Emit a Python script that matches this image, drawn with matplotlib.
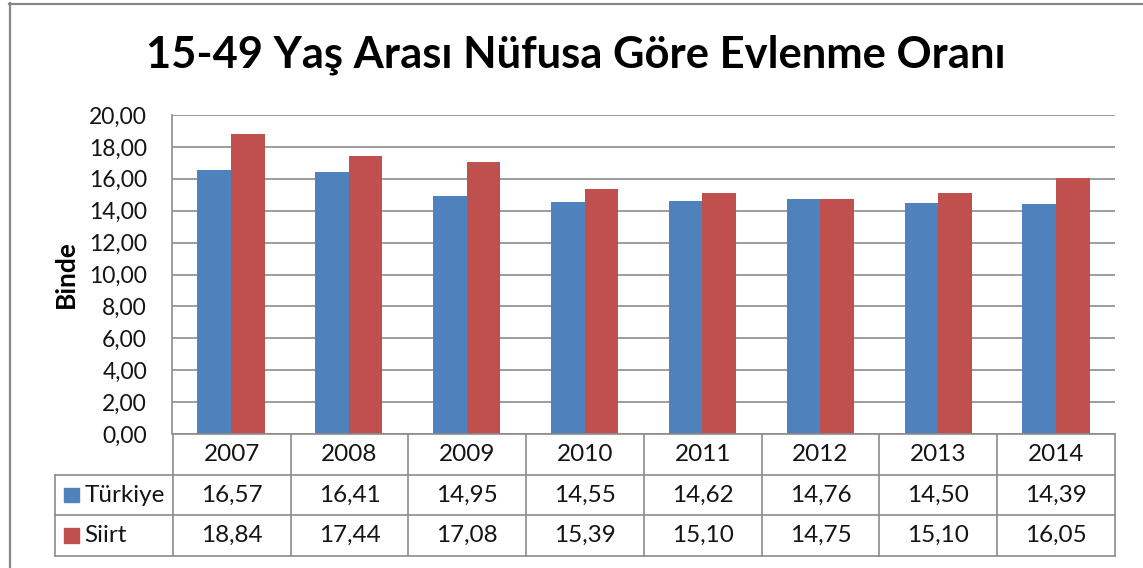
import matplotlib
matplotlib.use("Agg")
import matplotlib.pyplot as plt
from matplotlib.lines import Line2D
from matplotlib.patches import Rectangle
import numpy as np

years = ["2007", "2008", "2009", "2010", "2011", "2012", "2013", "2014"]
turkiye = [16.57, 16.41, 14.95, 14.55, 14.62, 14.76, 14.50, 14.39]
siirt = [18.84, 17.44, 17.08, 15.39, 15.10, 14.75, 15.10, 16.05]
series_names = ["Türkiye", "Siirt"]
colors = ["#4F81BD", "#C0504D"]
yticks = [0, 2, 4, 6, 8, 10, 12, 14, 16, 18, 20]

plt.rcParams['font.family'] = ['Lato', 'DejaVu Sans']
grid_c = "#8c8c8c"
txt_c = "#141414"

W, H = 1143, 568
fig = plt.figure(figsize=(W / 100, H / 100), dpi=100)

def fx(px):
    return px / W

def fy(py):
    return 1 - py / H

# outer chart frame
fig.add_artist(Line2D([fx(9), fx(W)], [fy(4), fy(4)], color="#878787", lw=1.6))
fig.add_artist(Line2D([fx(10), fx(10)], [fy(3), fy(H)], color="#878787", lw=1.6))

fig.text(0.504, fy(55), "15-49 Yaş Arası Nüfusa Göre Evlenme Oranı",
         ha="center", va="center", fontsize=31.3, fontweight="bold")

# bar plot area
L, R, T, B = 172, 1115, 115, 434
ax = fig.add_axes([fx(L), fy(B), fx(R - L), fy(T) - fy(B)])
x = np.arange(len(years))
bw = 0.285
ax.bar(x - bw / 2, turkiye, bw, color=colors[0], zorder=3)
ax.bar(x + bw / 2, siirt, bw, color=colors[1], zorder=3)
ax.set_xlim(-0.5, len(years) - 0.5)
ax.set_ylim(0, 20)
ax.set_yticks(yticks)
ax.set_yticklabels([f"{v:.2f}".replace(".", ",") for v in yticks], fontsize=16.5, color=txt_c)
ax.tick_params(axis="y", length=0, pad=18)
ax.set_xticks([])
ax.yaxis.grid(True, color=grid_c, lw=1.2, zorder=0)
for s in ["top", "right", "bottom"]:
    ax.spines[s].set_visible(False)
ax.spines["left"].set_color(grid_c)
ax.spines["left"].set_linewidth(1.2)
ax.set_ylabel("Binde", fontsize=19, fontweight="bold", labelpad=8)

# data table below
TL, TB = 55, 556
tax = fig.add_axes([fx(TL), fy(TB), fx(R - TL), fy(B) - fy(TB)])
tax.set_xlim(-1.5, len(years) - 0.5)
tax.set_ylim(0, 3)
tax.axis("off")
lk = dict(color=grid_c, lw=1.2, clip_on=False)
tax.plot([-0.5, len(years) - 0.5], [3, 3], **lk)
for yv in [2, 1, 0]:
    tax.plot([-1.5, len(years) - 0.5], [yv, yv], **lk)
for xv in np.arange(-0.5, len(years), 1.0):
    tax.plot([xv, xv], [0, 3], **lk)
tax.plot([-1.5, -1.5], [0, 2], **lk)

fs = 17.5
for i, yr in enumerate(years):
    tax.text(i, 2.5, yr, ha="center", va="center", fontsize=fs, color=txt_c)
    tax.text(i, 1.5, f"{turkiye[i]:.2f}".replace(".", ","), ha="center", va="center",
             fontsize=fs, color=txt_c)
    tax.text(i, 0.5, f"{siirt[i]:.2f}".replace(".", ","), ha="center", va="center",
             fontsize=fs, color=txt_c)

for row, (name, c) in enumerate(zip(series_names, colors)):
    yc = 1.5 - row
    tax.add_patch(Rectangle((-1.42, yc - 0.18), 0.12, 0.36, color=c, clip_on=False))
    tax.text(-1.25, yc, name, ha="left", va="center", fontsize=fs, color=txt_c)

fig.savefig("out.png", dpi=100)
